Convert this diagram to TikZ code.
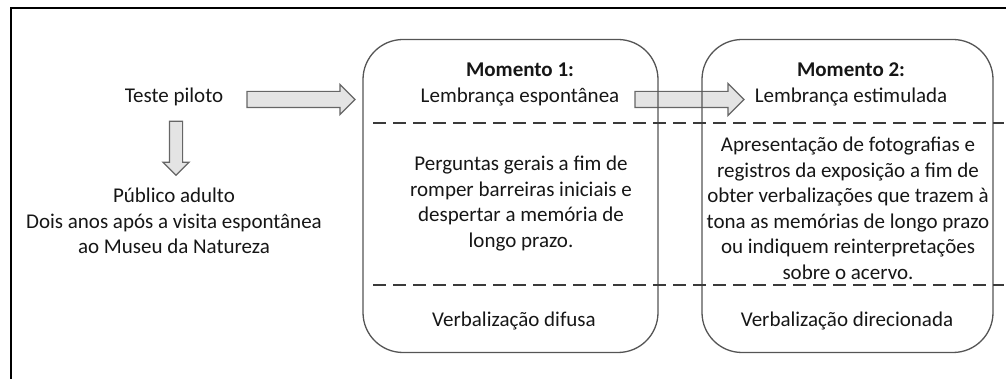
\documentclass[tikz,border=0pt]{standalone}
\usepackage{fontspec}
\setmainfont{Carlito}
\usetikzlibrary{shapes.arrows}

\definecolor{arrowfill}{HTML}{E4E4E4}
\definecolor{arrowline}{HTML}{666666}
\definecolor{boxline}{HTML}{555555}
\definecolor{dashline}{HTML}{3A3A3A}
\definecolor{txt}{HTML}{161616}

\tikzset{
  fatarrow/.style={single arrow, draw=arrowline, fill=arrowfill, line width=1.2pt,
    inner sep=7.5pt, single arrow head extend=7pt, minimum height=108pt},
  momentbox/.style={draw=boxline, line width=1.3pt, rounded corners=40pt,
    minimum height=313pt},
  divider/.style={draw=dashline, line width=1.8pt, dash pattern=on 13pt off 7pt},
  label/.style={text=txt, align=center, inner sep=0pt,
    font=\fontsize{21}{25.5}\selectfont},
}

\begin{document}
\begin{tikzpicture}[x=1pt,y=-1pt]
            \useasboundingbox (0,0) rectangle (1006,379);

            % moldura
            \draw[line width=2.4pt] (11,381) -- (11,8) -- (1008,8);

            %setas (por baixo das caixas)
            \node[fatarrow] (a1) at (297,99.5) {};
            \node[fatarrow, minimum height=109pt, single arrow head extend=8pt] (a2) at (685.5,99.5) {};
            \node[fatarrow, shape border rotate=270, inner sep=6pt, single arrow head extend=6.5pt,
              minimum height=54pt] (a3) at (176,145) {};

            \node[momentbox, minimum width=295pt] (m1) at (510.5,196) {};
            \node[momentbox, minimum width=291pt] (m2) at (847.5,196) {};

            %linhas tracejadas
            \draw[divider] (373,123) -- (1004,123);
            \draw[divider] (373,285) -- (1004,285);

            \node[label] (teste) at (174,97) {Teste piloto};
            \node[label] (publico) at (174,221) {P\'ublico adulto\\Dois anos ap\'os a visita espont\^anea\\ao Museu da Natureza};

            \node[label] (m1head) at (520,84.5) {\textbf{Momento 1:}\\Lembran\c{c}a espont\^anea};
            \node[label] (m1body) at (521,203.5) {Perguntas gerais a fim de\\romper barreiras iniciais e\\despertar a mem\'oria de\\longo prazo.};
            \node[label] (m1foot) at (514,321) {Verbaliza\c{c}\~ao difusa};

            \node[label] (m2head) at (851,84.5) {\textbf{Momento 2:}\\Lembran\c{c}a estimulada};
            \node[label] (m2body) at (848,208.5) {Apresenta\c{c}\~ao de fotografias e\\registros da exposi\c{c}\~ao a fim de\\obter verbaliza\c{c}\~oes que trazem \`a\\tona as mem\'orias de longo prazo\\ou indiquem reinterpreta\c{c}\~oes\\sobre o acervo.};
            \node[label] (m2foot) at (847,321) {Verbaliza\c{c}\~ao direcionada};

        \end{tikzpicture}
\end{document}
